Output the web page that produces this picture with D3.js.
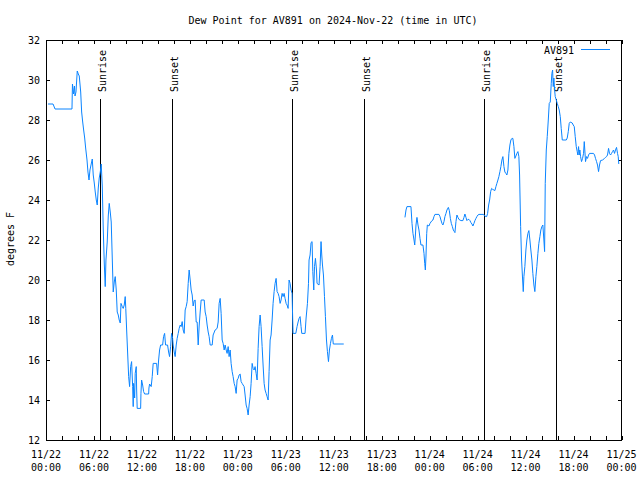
<!DOCTYPE html>
<html>
<head>
<meta charset="utf-8">
<script src="https://cdn.jsdelivr.net/npm/d3@7"></script>
<style>
  html, body { margin: 0; padding: 0; background: #fff; }
  svg text { font-family: "DejaVu Sans Mono", "Liberation Mono", monospace; font-size: 10px; fill: #000; }
</style>
</head>
<body>
<svg id="chart" width="640" height="480"></svg>
<script>
// ---- data (hours after 2024-11-22 00:00 UTC, dew point in °F) ----
const stationName = "AV891";
const chartTitle = "Dew Point for AV891 on 2024-Nov-22 (time in UTC)";
const yLabel = "degrees F";
const yTicks = [12, 14, 16, 18, 20, 22, 24, 26, 28, 30, 32];
const sunriseHours = [6.79, 30.79, 54.79];
const sunsetHours = [15.78, 39.75, 63.75];

const run1 = [[0.25,28.8],[0.88,28.8],[1.13,28.55],[3.25,28.55],[3.31,29.8],[3.44,29.3],[3.56,29.7],[3.63,29.2],[3.75,29.4],[3.91,30.45],[4.04,30.3],[4.16,30.2],[4.34,29.4],[4.46,28.4],[4.59,27.9],[4.71,27.5],[4.84,27.1],[4.96,26.6],[5.13,26.0],[5.25,25.4],[5.38,25.0],[5.5,25.5],[5.63,25.75],[5.79,26.05],[5.91,25.25],[6.04,24.85],[6.16,24.4],[6.29,24.0],[6.41,23.75],[6.54,24.6],[6.66,25.1],[6.79,25.4],[6.91,25.8],[7.04,24.7],[7.16,22.6],[7.29,20.85],[7.41,19.67],[7.5,21.0],[7.66,21.9],[7.79,23.2],[7.91,23.83],[8.04,23.4],[8.16,22.9],[8.29,21.1],[8.41,19.4],[8.54,19.9],[8.66,20.17],[8.79,19.5],[8.91,18.4],[9.04,18.25],[9.16,18.0],[9.29,17.85],[9.38,18.83],[9.54,18.67],[9.66,18.58],[9.79,18.75],[9.91,19.17],[9.98,18.58],[10.09,17.5],[10.21,16.4],[10.34,15.17],[10.46,14.67],[10.59,15.67],[10.71,15.92],[10.84,14.67],[10.91,13.67],[10.96,14.83],[11.09,14.1],[11.16,15.33],[11.29,15.67],[11.34,14.5],[11.41,13.58],[11.84,13.58],[11.88,14.33],[11.96,15.0],[12.09,14.75],[12.21,14.42],[12.34,14.3],[12.84,14.3],[12.88,14.6],[12.96,14.8],[13.16,14.67],[13.29,15.17],[13.41,15.83],[13.84,15.83],[13.96,15.25],[14.09,16.0],[14.21,16.5],[14.34,16.75],[14.59,16.75],[14.71,17.17],[14.84,17.33],[14.96,16.75],[15.21,16.75],[15.34,16.4],[15.46,16.17],[15.59,16.67],[15.71,17.33],[15.84,17.08],[15.91,16.75],[16.04,16.4],[16.16,16.17],[16.29,16.75],[16.41,17.08],[16.54,17.33],[16.66,17.58],[16.79,17.75],[16.91,17.67],[17.04,17.92],[17.16,17.5],[17.29,17.33],[17.41,18.5],[17.54,18.67],[17.66,18.92],[17.79,19.83],[17.91,20.5],[18.04,20.0],[18.16,19.5],[18.29,19.25],[18.41,18.7],[18.54,18.97],[18.66,19.0],[18.79,17.9],[18.91,17.9],[19.04,16.75],[19.16,17.7],[19.29,18.4],[19.41,19.0],[19.79,19.0],[19.91,18.4],[20.04,18.17],[20.16,17.75],[20.29,17.4],[20.41,17.17],[20.54,16.75],[20.79,16.75],[20.91,17.25],[21.16,17.5],[21.41,17.58],[21.54,17.9],[21.66,18.83],[21.79,19.08],[21.91,18.33],[22.04,17.0],[22.16,16.83],[22.29,16.5],[22.41,16.75],[22.54,16.5],[22.66,16.33],[22.79,16.67],[22.91,16.17],[23.04,16.5],[23.16,15.83],[23.29,15.42],[23.41,15.17],[23.54,14.83],[23.66,14.67],[23.79,14.33],[23.91,15.0],[24.04,15.08],[24.16,15.25],[24.29,15.3],[24.41,14.92],[24.54,14.83],[24.66,14.75],[24.79,14.67],[24.91,14.25],[25.04,13.75],[25.16,13.58],[25.29,13.25],[25.41,13.75],[25.54,14.17],[25.66,14.83],[25.79,15.83],[25.91,15.58],[26.04,15.5],[26.16,15.67],[26.29,15.33],[26.41,15.0],[26.54,16.58],[26.66,17.67],[26.79,18.25],[26.91,17.67],[27.04,16.67],[27.16,15.75],[27.29,14.83],[27.41,14.5],[27.54,14.33],[27.66,14.17],[27.79,14.0],[27.91,15.42],[28.04,17.0],[28.16,17.25],[28.29,18.0],[28.41,18.83],[28.54,19.42],[28.66,19.83],[28.79,20.08],[28.91,19.42],[29.04,19.33],[29.16,19.17],[29.29,18.83],[29.41,19.0],[29.54,19.33],[29.66,19.17],[29.79,19.33],[29.91,19.08],[30.04,18.83],[30.16,18.75],[30.29,18.58],[30.41,20.0],[30.54,19.83],[30.66,19.5],[30.79,19.33],[30.85,18.25],[30.91,17.33],[31.25,17.33],[31.41,17.67],[31.54,17.9],[31.66,18.08],[31.79,18.17],[31.91,17.67],[32.0,17.33],[32.41,17.33],[32.54,18.1],[32.71,18.83],[32.84,19.83],[32.91,21.0],[33.04,21.25],[33.16,21.87],[33.29,21.92],[33.38,20.42],[33.5,19.5],[33.59,20.67],[33.71,21.08],[33.84,20.5],[33.91,19.83],[34.16,19.75],[34.29,20.67],[34.41,21.92],[34.5,21.25],[34.59,20.75],[34.71,20.25],[34.84,19.17],[34.96,18.17],[35.09,17.0],[35.21,16.42],[35.34,15.92],[35.46,16.5],[35.59,16.83],[35.71,17.08],[35.84,17.25],[35.94,16.8],[37.25,16.8]];

const run2 = [[44.91,23.13],[45.04,23.5],[45.16,23.67],[45.66,23.67],[45.79,22.83],[45.91,22.33],[46.04,22.0],[46.13,21.75],[46.21,22.2],[46.29,22.75],[46.41,23.13],[46.54,22.75],[46.66,22.5],[46.79,22.08],[46.91,21.75],[47.16,21.75],[47.29,21.33],[47.38,20.83],[47.46,20.5],[47.54,21.2],[47.63,22.33],[47.71,22.75],[47.91,22.7],[48.04,22.83],[48.16,22.9],[48.29,22.97],[48.41,23.0],[48.54,23.17],[48.66,23.28],[49.16,23.28],[49.29,23.17],[49.41,23.0],[49.54,22.83],[49.66,22.75],[49.79,22.92],[49.91,23.17],[50.04,23.33],[50.16,23.5],[50.34,23.63],[50.46,23.47],[50.59,23.08],[50.71,22.83],[50.84,22.67],[50.96,22.5],[51.09,22.42],[51.16,22.37],[51.29,22.92],[51.41,23.25],[51.54,23.13],[51.66,23.03],[51.79,23.0],[51.91,22.97],[52.16,22.97],[52.29,23.13],[52.41,23.3],[52.54,23.13],[52.66,22.97],[52.79,23.03],[52.91,23.03],[53.04,22.97],[53.16,22.87],[53.29,22.8],[53.41,22.7],[53.54,22.83],[53.66,22.97],[53.79,23.08],[53.91,23.17],[54.04,23.25],[54.16,23.28],[54.75,23.28],[54.88,23.2],[55.13,23.17],[55.25,23.33],[55.38,23.75],[55.5,24.0],[55.63,24.42],[55.75,24.58],[55.88,24.53],[56.04,24.5],[56.16,24.47],[56.29,24.67],[56.41,24.83],[56.54,25.0],[56.66,25.17],[56.79,25.42],[56.91,25.67],[57.04,26.0],[57.16,26.17],[57.29,25.67],[57.41,25.4],[57.54,25.33],[57.66,25.25],[57.79,25.5],[57.91,26.33],[58.04,26.75],[58.16,27.0],[58.29,27.08],[58.41,27.08],[58.54,26.67],[58.66,26.08],[58.79,26.2],[58.91,26.33],[59.04,26.42],[59.16,26.17],[59.25,25.25],[59.38,22.67],[59.5,21.0],[59.63,20.0],[59.71,19.42],[59.79,20.17],[59.91,20.67],[60.04,21.5],[60.16,22.0],[60.29,22.33],[60.41,22.47],[60.54,22.0],[60.66,21.5],[60.79,21.0],[60.91,20.33],[61.04,19.75],[61.16,19.42],[61.29,20.17],[61.41,20.67],[61.54,21.33],[61.66,21.83],[61.79,22.17],[61.91,22.5],[62.04,22.67],[62.16,22.75],[62.29,22.0],[62.38,21.42],[62.46,24.83],[62.59,26.5],[62.71,27.17],[62.84,28.0],[62.96,28.83],[63.09,28.9],[63.21,29.83],[63.29,30.33],[63.38,30.5],[63.46,29.67],[63.54,30.1],[63.63,29.5],[63.71,29.17],[63.84,29.0],[63.96,28.83],[64.09,28.67],[64.21,28.5],[64.34,28.17],[64.46,27.58],[64.59,27.0],[65.09,27.0],[65.21,27.1],[65.34,27.42],[65.46,27.83],[65.59,27.9],[65.84,27.85],[65.96,27.75],[66.09,27.67],[66.21,27.17],[66.34,26.67],[66.46,26.42],[66.54,26.25],[66.63,26.67],[66.71,26.25],[66.79,26.5],[66.88,26.17],[67.0,25.92],[67.13,26.08],[67.25,26.33],[67.34,26.92],[67.41,26.5],[67.5,25.92],[67.63,26.17],[67.75,26.08],[67.88,26.25],[68.0,26.33],[68.5,26.33],[68.63,26.25],[68.75,26.08],[68.88,25.92],[69.0,25.75],[69.13,25.42],[69.25,25.75],[69.38,25.97],[69.63,26.0],[69.88,26.08],[70.0,26.13],[70.13,26.17],[70.25,26.25],[70.38,26.58],[70.5,26.33],[70.63,26.25],[70.75,26.33],[70.88,26.42],[71.0,26.5],[71.13,26.33],[71.25,26.5],[71.38,26.63],[71.5,26.33],[71.59,26.17],[71.66,25.8]];

// ---- layout ----
const W = 640, H = 480;
const M = { left: 46, right: 621.5, top: 40, bottom: 440 };
const lineColor = "#0a84ff";
const t0 = Date.UTC(2024, 10, 22, 0, 0);
const HOUR = 3600e3;
const toDate = h => new Date(t0 + h * HOUR);

const svg = d3.select("#chart");
svg.append("rect").attr("width", W).attr("height", H).attr("fill", "#fff");

const x = d3.scaleUtc().domain([toDate(0), toDate(72)]).range([M.left, M.right]);
const y = d3.scaleLinear().domain([12, 32]).range([M.bottom, M.top]);

const fmtDay = d3.utcFormat("%m/%d");
const fmtTime = d3.utcFormat("%H:%M");

// minor/major ticks (inward) on bottom and top
const tickTimes = d3.utcHour.every(2).range(toDate(0), toDate(72.01));
const labelTimes = d3.utcHour.every(6).range(toDate(0), toDate(72.01));
const tickG = svg.append("g").attr("stroke", "#000").attr("stroke-width", 1).attr("shape-rendering", "crispEdges");
tickTimes.forEach(t => {
  const xx = Math.round(x(t)) + 0.5;
  tickG.append("line").attr("x1", xx).attr("x2", xx).attr("y1", M.bottom).attr("y2", M.bottom - 4);
  tickG.append("line").attr("x1", xx).attr("x2", xx).attr("y1", M.top).attr("y2", M.top + 4);
});
yTicks.forEach(v => {
  const yy = Math.round(y(v)) + 0.5;
  tickG.append("line").attr("x1", M.left).attr("x2", M.left + 4).attr("y1", yy).attr("y2", yy);
  tickG.append("line").attr("x1", M.right).attr("x2", M.right - 4).attr("y1", yy).attr("y2", yy);
});

// x labels
const xl = svg.append("g");
labelTimes.forEach(t => {
  const txt = xl.append("text").attr("text-anchor", "middle").attr("x", x(t));
  txt.append("tspan").attr("x", x(t)).attr("y", 457.5).text(fmtDay(t));
  txt.append("tspan").attr("x", x(t)).attr("y", 470.5).text(fmtTime(t));
});
// y labels
const yl = svg.append("g");
yTicks.forEach(v => {
  yl.append("text").attr("text-anchor", "end").attr("x", 40).attr("y", y(v) + 4).text(v);
});

// sunrise / sunset markers
const events = sunriseHours.map(h => ({ h, label: "Sunrise" }))
  .concat(sunsetHours.map(h => ({ h, label: "Sunset" })));
const ev = svg.append("g");
events.forEach(e => {
  const xx = Math.round(x(toDate(e.h))) + 0.5;
  ev.append("line").attr("x1", xx).attr("x2", xx).attr("y1", y(29.05)).attr("y2", M.bottom)
    .attr("stroke", "#000").attr("stroke-width", 1).attr("shape-rendering", "crispEdges");
  ev.append("text").attr("transform", `translate(${xx + 5},${y(29.05) - 7}) rotate(-90)`)
    .attr("text-anchor", "start").text(e.label);
});

// data line
const line = d3.line().x(d => x(toDate(d[0]))).y(d => y(d[1]));
[run1, run2].forEach(run => {
  svg.append("path").datum(run).attr("d", line)
    .attr("fill", "none").attr("stroke", lineColor).attr("stroke-width", 1)
    .attr("stroke-linejoin", "miter");
});

// frame
svg.append("rect").attr("x", M.left + 0.5).attr("y", M.top + 0.5)
  .attr("width", Math.round(M.right - M.left) - 1).attr("height", M.bottom - M.top)
  .attr("fill", "none").attr("stroke", "#000").attr("shape-rendering", "crispEdges");

// legend
svg.append("text").attr("x", 574).attr("y", 54).attr("text-anchor", "end").text(stationName);
svg.append("line").attr("x1", 581).attr("x2", 610).attr("y1", 49.5).attr("y2", 49.5)
  .attr("stroke", lineColor).attr("stroke-width", 1).attr("shape-rendering", "crispEdges");

// title & y label
svg.append("text").attr("x", 333).attr("y", 24).attr("text-anchor", "middle").text(chartTitle);
svg.append("text").attr("transform", "translate(13.5,239) rotate(-90)")
  .attr("text-anchor", "middle").text(yLabel);
</script>
</body>
</html>
